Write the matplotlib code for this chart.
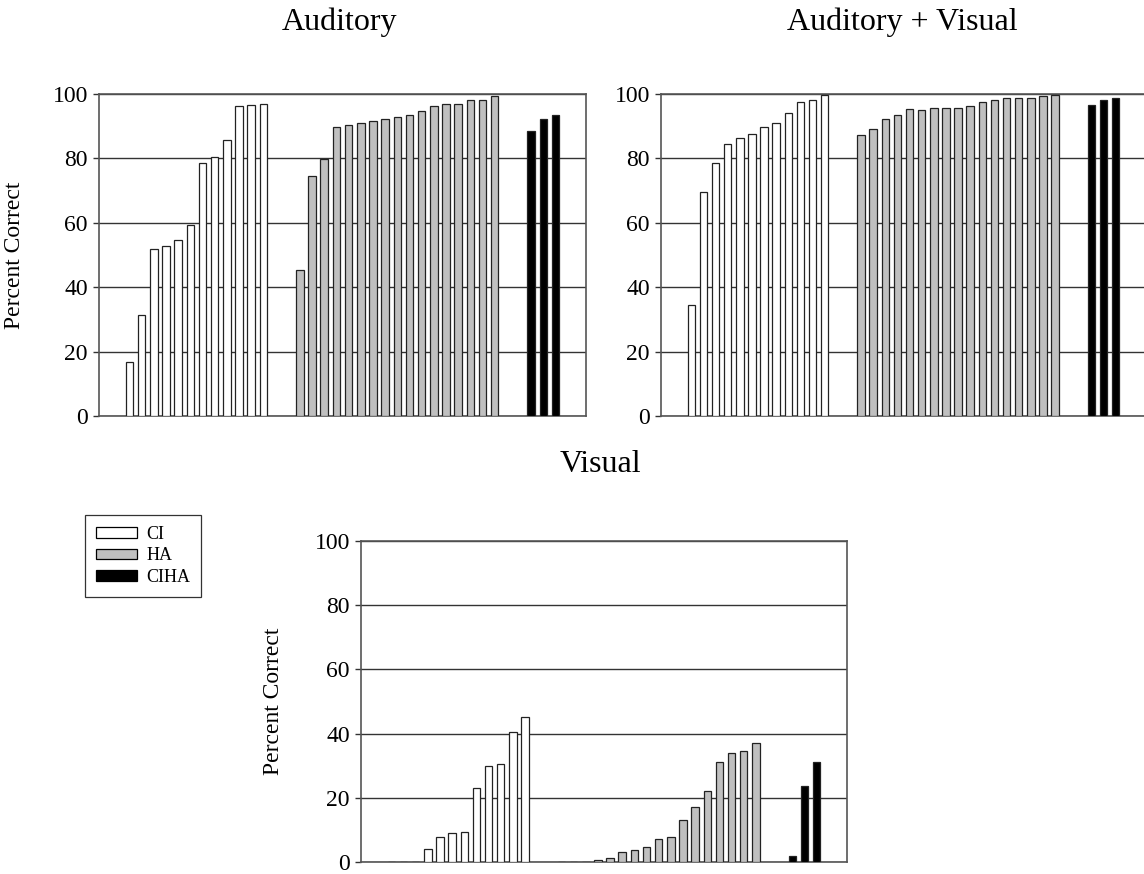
import numpy as np
import matplotlib
matplotlib.use("Agg")
import matplotlib.pyplot as plt
from matplotlib.patches import Patch

plt.rcParams['font.family'] = ['Liberation Serif', 'DejaVu Serif']

# percent correct per listener, sorted within each group
aud_ci = [16.8, 31.5, 51.8, 52.9, 54.8, 59.4, 78.7, 80.4, 85.6, 96.4, 96.6, 96.9]
aud_ha = [45.2, 74.4, 79.7, 89.8, 90.4, 91.0, 91.6, 92.2, 92.9, 93.4, 94.6,
          96.4, 96.9, 96.9, 98.1, 98.1, 99.4]
aud_ciha = [88.6, 92.2, 93.4]

av_ci = [34.5, 69.6, 78.6, 84.5, 86.3, 87.5, 89.9, 91.1, 94.0, 97.6, 98.2, 99.8]
av_ha = [87.4, 89.2, 92.2, 93.4, 95.2, 95.1, 95.8, 95.8, 95.8, 96.4, 97.6,
         98.1, 98.8, 98.8, 98.8, 99.4, 99.7]
av_ciha = [96.5, 98.2, 98.9]

vis_ci = [0, 0, 0, 4.2, 7.8, 9.0, 9.5, 23.2, 29.8, 30.5, 40.6, 45.2]
vis_ha = [0, 0, 0, 0.5, 1.2, 3.0, 3.6, 4.8, 7.3, 7.8, 13.2, 17.2, 22.1,
          31.0, 34.0, 34.6, 37.0]
vis_ciha = [1.8, 23.8, 31.0]

group_names = ['CI', 'HA', 'CIHA']
colors = ['white', '#c0c0c0', 'black']
W, H = 1144, 874


def draw_panel(ax, groups):
    # two empty slots before and between groups, like the original sheet
    start = 2
    for vals, col in zip(groups, colors):
        x = np.arange(len(vals)) + start + 0.5
        ax.bar(x, vals, width=0.62, color=col, edgecolor='#222222',
               linewidth=0.9, zorder=3)
        start += len(vals) + 2
    ax.set_xlim(0, 40)
    ax.set_ylim(0, 100)
    ax.set_yticks([0, 20, 40, 60, 80, 100])
    ax.set_xticks([])
    ax.yaxis.grid(True, color='#333333', linewidth=1.0)
    ax.set_axisbelow(True)
    ax.tick_params(axis='y', direction='out', length=4, width=1,
                   color='#333333', labelsize=17, pad=4)
    for s in ax.spines.values():
        s.set_color('#555555')
        s.set_linewidth(1.2)


fig = plt.figure(figsize=(W / 100, H / 100), dpi=100)


def add_axes(l, r, t, b):
    return fig.add_axes([l / W, 1 - b / H, (r - l) / W, (b - t) / H])


ax1 = add_axes(99, 586, 94, 416)
ax2 = add_axes(661, 1146, 94, 416)
ax3 = add_axes(361, 847, 541, 862)

draw_panel(ax1, [aud_ci, aud_ha, aud_ciha])
draw_panel(ax2, [av_ci, av_ha, av_ciha])
draw_panel(ax3, [vis_ci, vis_ha, vis_ciha])

ax1.set_ylabel('Percent Correct', fontsize=17)
ax1.yaxis.set_label_coords(-0.152, 0.5)
ax3.set_ylabel('Percent Correct', fontsize=17)
ax3.yaxis.set_label_coords(-0.158, 0.5)

fig.text(340 / W, 1 - 22 / H, 'Auditory', fontsize=23, ha='center', va='center')
fig.text(902 / W, 1 - 22 / H, 'Auditory + Visual', fontsize=23, ha='center', va='center')
fig.text(600 / W, 1 - 465 / H, 'Visual', fontsize=23, ha='center', va='center')

handles = [Patch(facecolor=c, edgecolor='black', linewidth=0.9) for c in colors]
leg = fig.legend(handles, group_names, loc='upper left',
                 bbox_to_anchor=(85 / W, 1 - 515 / H), fontsize=13,
                 frameon=True, fancybox=False, handlelength=2.3,
                 handleheight=0.55, handletextpad=0.5, labelspacing=0.25,
                 borderpad=0.6, borderaxespad=0)
leg.get_frame().set_edgecolor('black')
leg.get_frame().set_linewidth(0.9)

fig.savefig('out.png', dpi=100)
